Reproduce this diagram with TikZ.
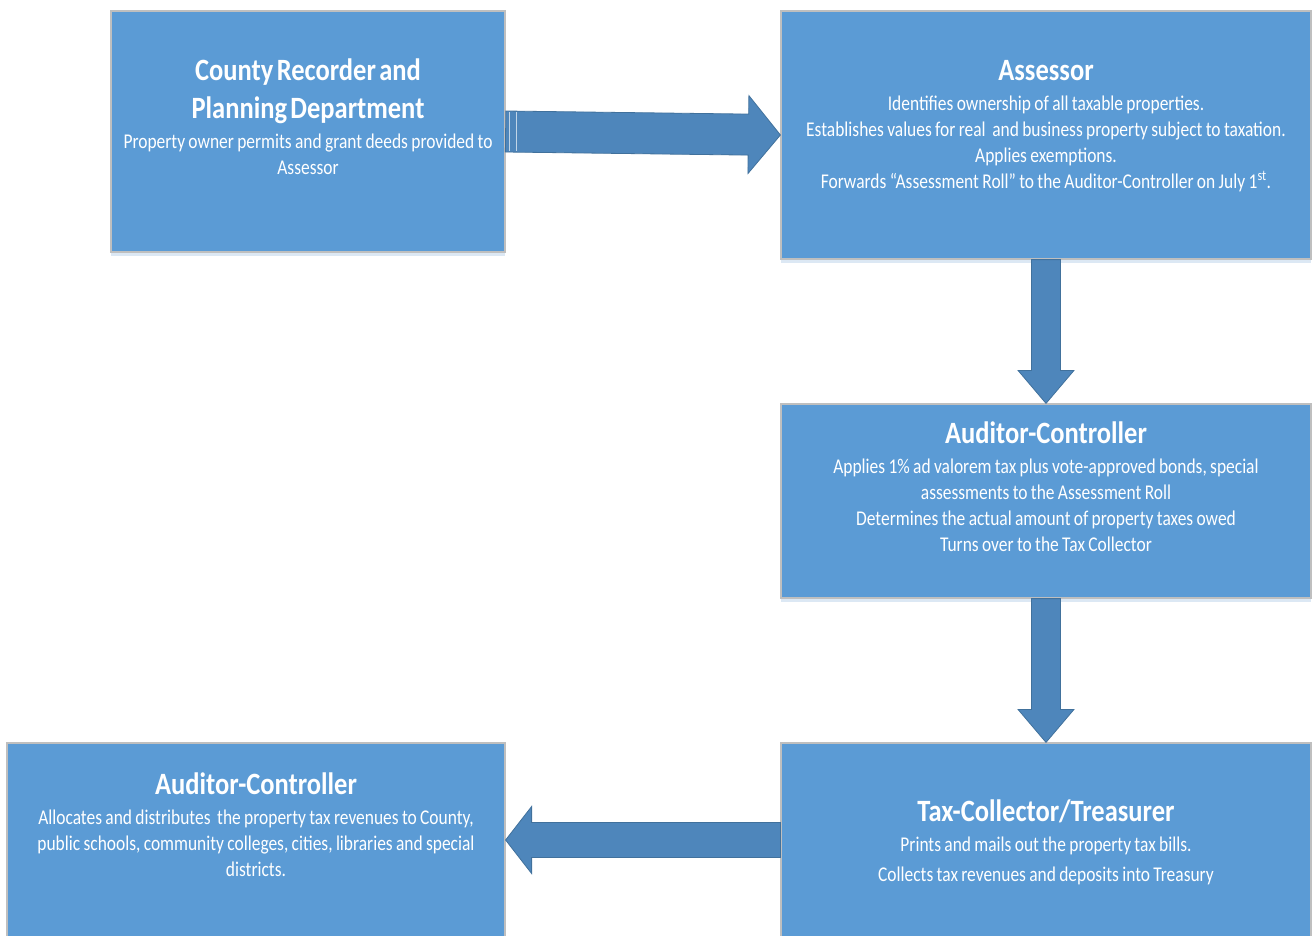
\documentclass[tikz,border=0pt]{standalone}
\usepackage{fontspec}
\setmainfont{Carlito}
\newfontfamily\titlefont{Carlito}[FakeStretch=0.855]
\newfontfamily\bodyfont{Carlito}[FakeStretch=0.83]
\usetikzlibrary{calc,shadows}

\definecolor{cardblue}{HTML}{5B9BD5}
\definecolor{cardline}{HTML}{BFBFBF}
\definecolor{arrowblue}{HTML}{4E86BB}
\definecolor{arrowline}{HTML}{41719C}
\definecolor{shadowblue}{HTML}{DCE8F4}

\newcommand{\cardtitle}[1]{{\titlefont\bfseries\fontsize{31}{38}\selectfont #1\par}}
\newcommand{\cardbody}[2][26]{\vspace{\dimexpr 30pt-#1pt\relax}{\bodyfont\fontsize{21}{#1}\selectfont #2\par}}

\begin{document}
\begin{tikzpicture}[x=1pt, y=-1pt,
    card/.style={draw=cardline, line width=1.2pt, fill=cardblue, inner sep=0pt,
      drop shadow={shadow xshift=0pt, shadow yshift=-4pt, fill=shadowblue, opacity=1}},
    cardtext/.style={text=white, align=center, inner sep=0pt, anchor=base},
    blockarrow/.style n args={3}{draw=arrowline, line width=0.8pt, fill=arrowblue,
      to path={($(\tikztostart)!#1!90:(\tikztotarget)$)
        -- ($(\tikztotarget)!#3!(\tikztostart)!#1!90:(\tikztotarget)$)
        -- ($(\tikztotarget)!#3!(\tikztostart)!#2!90:(\tikztotarget)$)
        -- (\tikztotarget)
        -- ($(\tikztotarget)!#3!(\tikztostart)!#2!-90:(\tikztotarget)$)
        -- ($(\tikztotarget)!#3!(\tikztostart)!#1!-90:(\tikztotarget)$)
        -- ($(\tikztostart)!#1!-90:(\tikztotarget)$) -- cycle}},
    tailline/.style={draw=white!65!arrowblue, line width=1pt}]
    \useasboundingbox (0,0) rectangle (1312,935);

    \node[card, minimum width=394pt, minimum height=241pt] (county) at (308,131.5) {};
    \node[card, minimum width=530pt, minimum height=248pt] (assessor) at (1046,135) {};
    \node[card, minimum width=530pt, minimum height=194pt] (auditor) at (1046,501) {};
    \node[card, minimum width=530pt, minimum height=194pt] (collector) at (1046,840) {};
    \node[card, minimum width=498pt, minimum height=194pt] (alloc) at (256,840) {};

    \node[cardtext, text width=390pt] (county-text) at ([yshift=-70pt]county.north)
        {\cardtitle{County Recorder and\\Planning Department}%
         \cardbody{Property owner permits and grant deeds provided to\\Assessor}};
    \node[cardtext, text width=526pt] (assessor-text) at ([yshift=-70pt]assessor.north)
        {\cardtitle{Assessor}%
         \cardbody{Identifies ownership of all taxable properties.\\
           Establishes values for real \ and business property subject to taxation.\\
           Applies exemptions.\\
           Forwards “Assessment Roll” to the Auditor-Controller on July 1\textsuperscript{st}.}};
    \node[cardtext, text width=526pt] (auditor-text) at ([yshift=-40pt]auditor.north)
        {\cardtitle{Auditor-Controller}%
         \cardbody{Applies 1\% ad valorem tax plus vote-approved bonds, special\\
           assessments to the Assessment Roll\\
           Determines the actual amount of property taxes owed\\
           Turns over to the Tax Collector}};
    \node[cardtext, text width=526pt] (collector-text) at ([yshift=-79pt]collector.north)
        {\cardtitle{Tax-Collector/Treasurer}%
         \cardbody[30]{Prints and mails out the property tax bills.\\
           Collects tax revenues and deposits into Treasury}};
    \node[cardtext, text width=494pt] (alloc-text) at ([yshift=-52.5pt]alloc.north)
        {\cardtitle{Auditor-Controller}%
         \cardbody{Allocates and distributes \ the property tax revenues to County,\\
           public schools, community colleges, cities, libraries and special\\
           districts.}};

    \draw[blockarrow={20.5pt}{39pt}{32pt}] (county.east) to (assessor.west);
    \draw[tailline] ([xshift=4pt, yshift=19.5pt]county.east) -- ([xshift=4pt, yshift=-19.5pt]county.east);
    \draw[tailline] ([xshift=11pt, yshift=19.5pt]county.east) -- ([xshift=11pt, yshift=-19.5pt]county.east);
    \draw[blockarrow={14.5pt}{28pt}{33pt}] (assessor.south) to (auditor.north);
    \draw[blockarrow={14.5pt}{28pt}{33pt}] (auditor.south) to (collector.north);
    \draw[blockarrow={17.5pt}{33.5pt}{26pt}] (collector.west) to (alloc.east);
\end{tikzpicture}
\end{document}
